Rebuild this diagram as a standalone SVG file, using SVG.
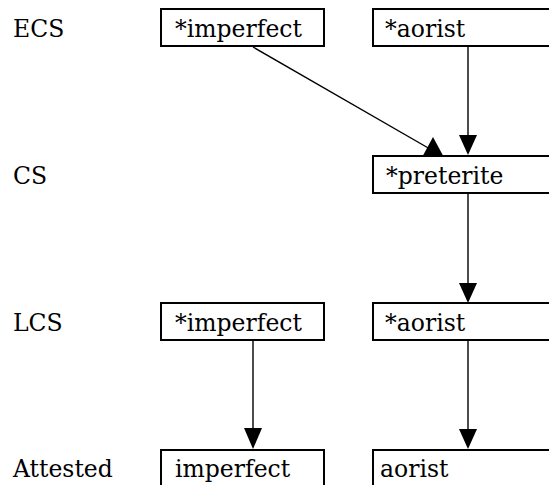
<svg xmlns="http://www.w3.org/2000/svg" width="549" height="485" viewBox="0 0 549 485">
  <style>
    .t { font-family: "DejaVu Serif", "Liberation Serif", serif; font-size: 23.5px; fill: #000; }
    .box { fill: #fff; stroke: #000; stroke-width: 2; }
    .ln { stroke: #000; stroke-width: 1.4; fill: none; }
    .ah { fill: #000; stroke: none; }
  </style>
  <rect width="549" height="485" fill="#fff"/>
  <g id="labels">
    <text class="t" x="13" y="37">ECS</text>
    <text class="t" x="13" y="184">CS</text>
    <text class="t" x="13" y="331">LCS</text>
    <text class="t" x="13" y="477">Attested</text>
  </g>
  <g id="connectors">
    <line class="ln" x1="253" y1="47" x2="430" y2="149"/>
    <polygon class="ah" points="433,137 423,155.5 443,155.5"/>
    <line class="ln" x1="468" y1="46" x2="468" y2="140"/>
    <polygon class="ah" points="459,135 477,135 468,155"/>
    <line class="ln" x1="468" y1="193" x2="468" y2="288"/>
    <polygon class="ah" points="459,283 477,283 468,303"/>
    <line class="ln" x1="253" y1="340" x2="253" y2="433"/>
    <polygon class="ah" points="244,428 262,428 253,449"/>
    <line class="ln" x1="468" y1="340" x2="468" y2="434"/>
    <polygon class="ah" points="459,429 477,429 468,449"/>
  </g>
  <g id="ecs-imperfect">
    <rect class="box" x="161" y="9" width="163" height="37"/>
    <text class="t" x="175" y="37">*imperfect</text>
  </g>
  <g id="ecs-aorist">
    <rect class="box" x="373" y="9" width="190" height="37"/>
    <text class="t" x="385" y="37">*aorist</text>
  </g>
  <g id="cs-preterite">
    <rect class="box" x="373" y="156" width="190" height="37"/>
    <text class="t" x="386" y="184">*preterite</text>
  </g>
  <g id="lcs-imperfect">
    <rect class="box" x="161" y="303" width="163" height="37"/>
    <text class="t" x="175" y="331">*imperfect</text>
  </g>
  <g id="lcs-aorist">
    <rect class="box" x="373" y="303" width="190" height="37"/>
    <text class="t" x="385" y="331">*aorist</text>
  </g>
  <g id="att-imperfect">
    <rect class="box" x="161" y="450" width="163" height="45"/>
    <text class="t" x="175" y="477">imperfect</text>
  </g>
  <g id="att-aorist">
    <rect class="box" x="373" y="450" width="190" height="45"/>
    <text class="t" x="380" y="477">aorist</text>
  </g>
</svg>
